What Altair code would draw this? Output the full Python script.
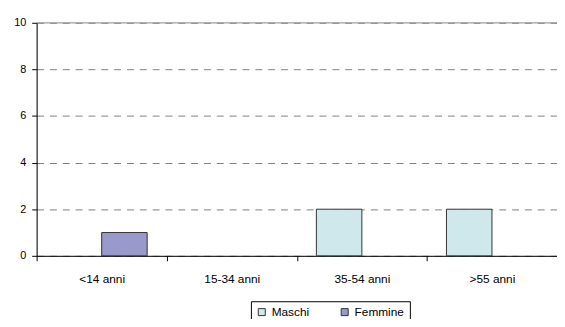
import altair as alt
import pandas as pd

categories = ["<14 anni", "15-34 anni", "35-54 anni", ">55 anni"]
maschi = [0, 0, 2, 2]
femmine = [1, 0, 0, 0]
series = ["Maschi", "Femmine"]
colors = ["#CFE8EC", "#9999CC"]

rows = []
for i, c in enumerate(categories):
    rows.append({"cat": c, "sesso": "Maschi", "val": maschi[i]})
    rows.append({"cat": c, "sesso": "Femmine", "val": femmine[i]})
df = pd.DataFrame(rows)

font = "Liberation Sans"

x_enc = alt.X(
    "cat:N",
    sort=categories,
    scale=alt.Scale(domain=categories, paddingInner=0, paddingOuter=0),
    axis=alt.Axis(
        title=None, labelAngle=0, tickBand="extent", grid=False,
        domainColor="#000000", tickColor="#000000", tickSize=5,
        labelPadding=13, labelFontSize=12, labelFont=font, labelColor="#000000",
    ),
)

bars = alt.Chart(df).transform_filter("datum.val > 0").mark_bar(
    stroke="#333333", strokeWidth=1
).encode(
    x=x_enc,
    xOffset=alt.XOffset("sesso:N", sort=series,
                        scale=alt.Scale(domain=series, paddingInner=0, paddingOuter=0.43)),
    y=alt.Y(
        "val:Q",
        scale=alt.Scale(domain=[0, 10], nice=False),
        axis=alt.Axis(
            title=None, values=[0, 2, 4, 6, 8, 10], grid=True,
            gridColor="#808080", gridDash=[7, 6], gridWidth=1,
            domainColor="#000000", tickColor="#000000", tickSize=5,
            labelPadding=6, labelFontSize=11, labelFont=font, labelColor="#000000",
        ),
    ),
    color=alt.Color(
        "sesso:N",
        sort=series,
        scale=alt.Scale(domain=series, range=colors),
        legend=alt.Legend(
            title=None, orient="none", direction="horizontal",
            legendX=217, legendY=282,
            symbolType="square", symbolSize=50, symbolStrokeColor="#333333",
            symbolStrokeWidth=1, labelFontSize=12, labelFont=font,
            labelColor="#000000", labelOffset=4, columnPadding=29,
            strokeColor="#000000", fillColor="#FFFFFF", padding=5,
        ),
    ),
)

top = alt.Chart(pd.DataFrame({"v": [10]})).mark_rule(color="#999999", strokeWidth=1).encode(
    y=alt.Y("v:Q", scale=alt.Scale(domain=[0, 10], nice=False))
)

chart = alt.layer(bars, top).properties(
    width=527, height=236,
    padding={"left": 29, "top": 13, "right": 0, "bottom": 62},
    autosize=alt.AutoSizeParams(type="none"),
).configure_view(stroke=None).configure(background="#FFFFFF")

chart.save("out.html", embed_options={"renderer": "svg", "actions": False})
